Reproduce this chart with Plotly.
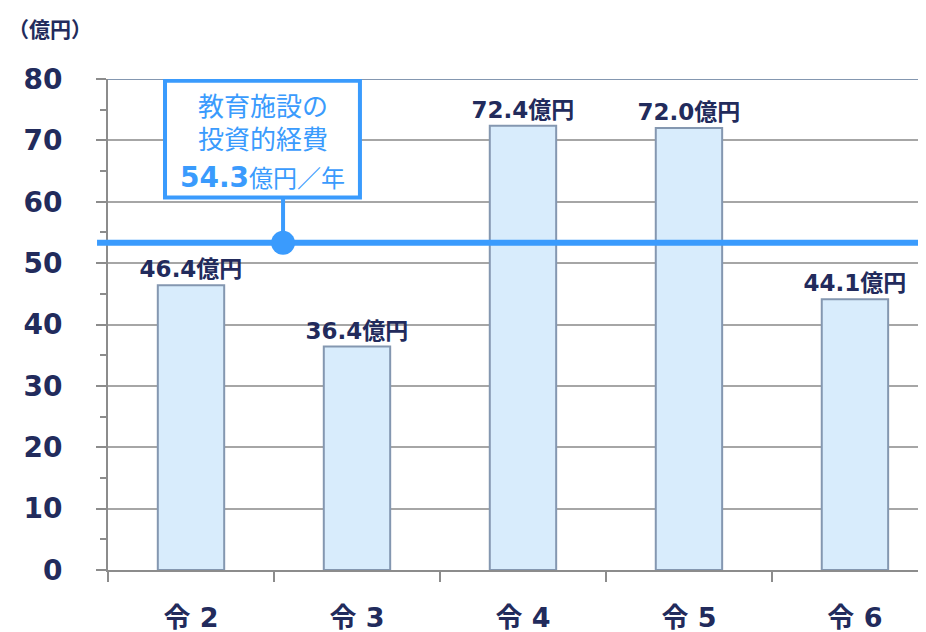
import plotly.graph_objects as go

categories = ["令2", "令3", "令4", "令5", "令6"]
category_labels = ["令 2", "令 3", "令 4", "令 5", "令 6"]
values = [46.4, 36.4, 72.4, 72.0, 44.1]
avg_label_value = 54.3
line_level = 53.3  # drawn position of the average line
y_ticks = [0, 10, 20, 30, 40, 50, 60, 70, 80]

NAVY = "#222b5c"
BLUE = "#3a9bfd"
FONT = "Verdana, 'DejaVu Sans', 'Noto Sans CJK JP', sans-serif"
CJK = "'Noto Sans CJK JP', sans-serif"

fig = go.Figure()
fig.add_trace(go.Bar(
    x=categories, y=values, width=0.4,
    marker=dict(color="#d8ecfc", line=dict(color="#8497b0", width=2)),
    text=[f"{v:.1f}億円" for v in values], textposition="outside",
    constraintext="none",
    textfont=dict(family=FONT, size=23, color=NAVY, weight="bold"),
    cliponaxis=False, showlegend=False,
))

shapes = [
    dict(type="line", xref="paper", yref="y", x0=0, x1=1, y0=80, y1=80,
         line=dict(color="#8497b0", width=2)),
    dict(type="line", xref="paper", yref="y", x0=-0.0134, x1=1, y0=line_level, y1=line_level,
         line=dict(color=BLUE, width=6)),
    dict(type="line", xref="paper", yref="y", x0=0.214, x1=0.214, y0=line_level, y1=60.7,
         line=dict(color=BLUE, width=4)),
    dict(type="rect", xref="paper", yref="y", x0=0.0697, x1=0.308, y0=60.7, y1=79.7,
         line=dict(color=BLUE, width=4), fillcolor="white"),
]
fig.update_layout(shapes=shapes)
fig.add_shape(type="circle", xref="paper", yref="y", xsizemode="pixel", ysizemode="pixel",
              xanchor=0.214, yanchor=line_level, x0=-12, x1=12, y0=-12, y1=12,
              fillcolor=BLUE, line=dict(color=BLUE, width=0))

ann = [
    dict(text="教育施設の", x=0.189, y=75.4, font=dict(family=FONT, size=26, color=BLUE)),
    dict(text="投資的経費", x=0.189, y=70.0, font=dict(family=FONT, size=26, color=BLUE)),
    dict(text=f"<b><span style='font-size:28px'>{avg_label_value}</span></b>億円／年", x=0.189, y=64.0,
         font=dict(family=FONT, size=24, color=BLUE)),
]
for a in ann:
    fig.add_annotation(xref="paper", yref="y", showarrow=False, xanchor="center", yanchor="middle", **a)

fig.add_annotation(text="（億円）", xref="paper", yref="paper", x=-0.0709, y=1.0,
                   xanchor="center", yanchor="middle", yshift=51, showarrow=False,
                   font=dict(family=CJK, size=21, color=NAVY, weight="bold"))

fig.update_layout(
    width=918, height=624,
    margin=dict(l=100, r=0, t=71, b=62),
    paper_bgcolor="white", plot_bgcolor="white",
    xaxis=dict(
        type="category", range=[-0.5, 4.428], tickson="boundaries",
        tickvals=categories, ticktext=category_labels,
        ticks="outside", ticklen=10, tickcolor="#8c8c8c", tickwidth=2,
        showline=True, linecolor="#8c8c8c", linewidth=2, showgrid=False,
        tickfont=dict(family=FONT, size=27, color=NAVY, weight="bold"),
        ticklabelstandoff=23, automargin=False,
    ),
    yaxis=dict(
        range=[0, 80], tickvals=y_ticks,
        ticks="outside", ticklen=10, tickcolor="#8c8c8c", tickwidth=2,
        showline=True, linecolor="#8c8c8c", linewidth=2,
        showgrid=True, gridcolor="#a6a6a6", gridwidth=1.5,
        minor=dict(dtick=5, ticks="outside", ticklen=6, tickcolor="#8c8c8c", tickwidth=1.5, showgrid=False),
        tickfont=dict(family=FONT, size=28, color=NAVY, weight="bold"),
        ticklabelstandoff=28, zeroline=False, automargin=False,
    ),
)

fig.write_html("out.html")
